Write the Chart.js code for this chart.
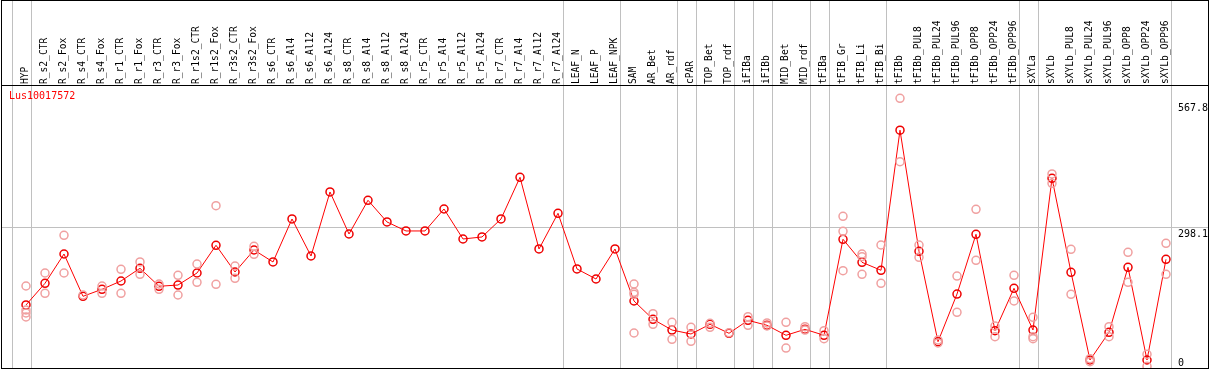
<!DOCTYPE html>
<html><head><meta charset="utf-8">
<script src="https://cdn.jsdelivr.net/npm/chart.js@4.4.0/dist/chart.umd.min.js"></script>
<style>html,body{margin:0;padding:0;background:#fff;overflow:hidden}#wrap{width:1209px;height:370px;position:relative}</style>
</head><body><div id="wrap"><canvas id="c" width="1209" height="370"></canvas></div>
<script>
const geneTitle = 'Lus10017572';
const categories = ['HYP','R_s2_CTR','R_s2_Fox','R_s4_CTR','R_s4_Fox','R_r1_CTR','R_r1_Fox','R_r3_CTR','R_r3_Fox','R_r1s2_CTR','R_r1s2_Fox','R_r3s2_CTR','R_r3s2_Fox','R_s6_CTR','R_s6_Al4','R_s6_Al12','R_s6_Al24','R_s8_CTR','R_s8_Al4','R_s8_Al12','R_s8_Al24','R_r5_CTR','R_r5_Al4','R_r5_Al12','R_r5_Al24','R_r7_CTR','R_r7_Al4','R_r7_Al12','R_r7_Al24','LEAF_N','LEAF_P','LEAF_NPK','SAM','AR_Bet','AR_rdf','cPAR','TOP_Bet','TOP_rdf','iFIBa','iFIBb','MID_Bet','MID_rdf','tFIBa','tFIB_Gr','tFIB_Li','tFIB_Bi','tFIBb','tFIBb_PUL8','tFIBb_PUL24','tFIBb_PUL96','tFIBb_OPP8','tFIBb_OPP24','tFIBb_OPP96','sXYLa','sXYLb','sXYLb_PUL8','sXYLb_PUL24','sXYLb_PUL96','sXYLb_OPP8','sXYLb_OPP24','sXYLb_OPP96'];
const meanValues = [133.0,179.5,242.3,151.6,166.6,184.4,211.7,173.1,175.8,201.6,261.0,203.7,250.9,225.2,317.4,238.0,375.3,285.2,357.5,311.0,291.7,291.7,338.8,274.5,278.8,317.4,406.8,253.1,329.6,210.2,188.7,253.1,141.5,102.3,79.3,70.8,91.6,72.3,100.1,89.4,68.0,80.8,68.0,273.9,224.5,207.4,507.8,248.1,54.3,156.5,284.6,77.8,168.8,79.3,404.7,203.1,15.0,74.4,213.8,15.0,231.0];
const replicateValues = [
  [173.7,122.2,115.8,107.2],[201.6,158.1],[282.4,201.6],[154.4],[173.7,158.1],[209.5,158.1],[225.2,198.8],[178.0,166.6],[196.7,154.4],[220.9,181.6],[345.9,177.4],[216.6,190.2],[258.8,241.7],
  [],[],[],[],[],[],[],[],[],[],[],[],[],[],[],[],[],[],[],
  [178.0,160.2,155.9,72.9],[114.3,91.6],[95.9,59.4],[85.1,55.1],[93.7,85.1],[73.6],[107.9,89.4],[94.4,87.9],[95.9,40.7],[86.4,79.3],[77.8,60.7],
  [323.2,291.0,206.5],[242.3,236.5,198.8],[261.6,179.5],[576.2,440.3],[261.6,235.3],[57.9,51.5],[195.1,117.3],[338.2,228.8],[87.9,65.0],[196.7,141.5],
  [106.6,65.0,60.7],[413.9,393.9],[252.4,155.9],[17.8,11.4],[86.4,65.0],[246.0,181.6],[27.2,1.5],[265.3,198.8]
];
const separatorsAfter = [-1,0,28,31,34,35,37,38,39,41,42,45,52,53,60];
const yTickValues = [0, 298.1, 567.8];

const MONO = '"DejaVu Sans Mono", "Liberation Mono", monospace';
const repPoints = [];
replicateValues.forEach((arr, i) => arr.forEach(v => repPoints.push({x: i, y: v})));
const meanPoints = meanValues.map((v, i) => ({x: i, y: v}));

const framePlugin = {
  id: 'frame',
  beforeDatasetsDraw(chart) {
    const {ctx, chartArea, scales} = chart;
    ctx.save();
    ctx.strokeStyle = '#c0c0c0';
    ctx.lineWidth = 1;
    separatorsAfter.forEach(s => {
      const x = Math.round(scales.x.getPixelForValue(s + 0.25)) + 0.5;
      ctx.beginPath(); ctx.moveTo(x, 0); ctx.lineTo(x, chartArea.bottom); ctx.stroke();
    });
    ctx.restore();
  },
  afterDraw(chart) {
    const {ctx, chartArea, scales} = chart;
    ctx.save();
    ctx.strokeStyle = '#000';
    ctx.lineWidth = 1;
    ctx.strokeRect(1.5, 0.5, 1207, chartArea.bottom);
    ctx.beginPath(); ctx.moveTo(1, chartArea.top + 0.5); ctx.lineTo(1209, chartArea.top + 0.5); ctx.stroke();
    ctx.font = '10px ' + MONO;
    ctx.fillStyle = '#ff0000';
    ctx.textAlign = 'left';
    ctx.textBaseline = 'top';
    ctx.fillText(geneTitle, 9, chartArea.top + 6);
    ctx.fillStyle = '#000';
    yTickValues.forEach(v => {
      const y = scales.y.getPixelForValue(v);
      const label = String(v);
      if (v === 0) { ctx.textBaseline = 'alphabetic'; ctx.fillText(label, 1178, y - 1); }
      else { ctx.textBaseline = 'top'; ctx.fillText(label, 1178, y + 1); }
    });
    ctx.restore();
  }
};

new Chart(document.getElementById('c'), {
  type: 'scatter',
  data: {
    datasets: [
      {
        label: 'replicates', data: repPoints, showLine: false,
        pointRadius: 4, pointHoverRadius: 4, pointBorderWidth: 1.5,
        pointBorderColor: '#f0a0a0', pointBackgroundColor: 'rgba(0,0,0,0)'
      },
      {
        label: geneTitle, data: meanPoints, showLine: true, tension: 0,
        borderColor: '#ff0000', borderWidth: 1,
        pointRadius: 4, pointHoverRadius: 4, pointBorderWidth: 1.5,
        pointBorderColor: '#ee0000', pointBackgroundColor: 'rgba(0,0,0,0)'
      }
    ]
  },
  options: {
    responsive: false, animation: false, devicePixelRatio: 1,
    layout: {autoPadding: false, padding: {left: 1, right: 0, top: 0, bottom: 2}},
    plugins: {legend: {display: false}, tooltip: {enabled: false}},
    scales: {
      x: {
        type: 'linear', position: 'top',
        min: -25 / 19, max: -25 / 19 + 1208 / 19,
        afterBuildTicks: s => { s.ticks = categories.map((_, i) => ({value: i})); },
        afterFit: s => { s.height = 85; s.paddingLeft = 0; s.paddingRight = 0; },
        grid: {display: false, drawTicks: false},
        border: {display: false},
        ticks: {
          autoSkip: false, minRotation: 90, maxRotation: 90, padding: 1, labelOffset: 11,
          color: '#000', font: {family: MONO, size: 9.6},
          callback: v => categories[v]
        }
      },
      y: {
        type: 'linear', position: 'right',
        min: -2.14, max: 604.7,
        afterBuildTicks: s => { s.ticks = yTickValues.map(v => ({value: v})); },
        afterFit: s => { s.width = 0; s.paddingTop = 0; s.paddingBottom = 0; },
        grid: {drawTicks: false, color: c => (c.tick && c.tick.value === 298.1) ? '#c0c0c0' : 'rgba(0,0,0,0)'},
        border: {display: false},
        ticks: {display: false}
      }
    }
  },
  plugins: [framePlugin]
});
</script></body></html>
